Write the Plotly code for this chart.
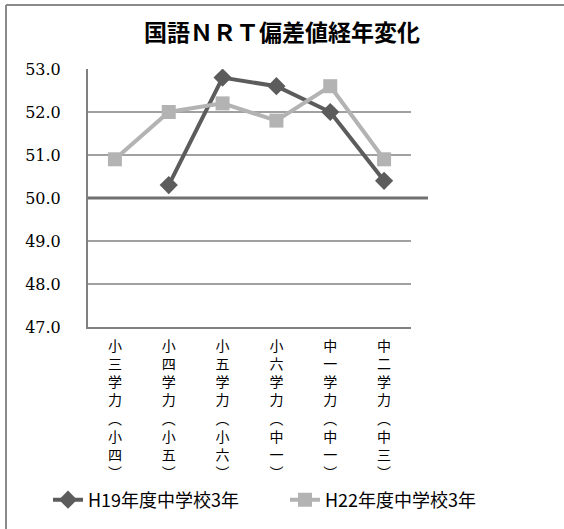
import plotly.graph_objects as go

categories = ["小三学力（小四）", "小四学力（小五）", "小五学力（小六）",
              "小六学力（中一）", "中一学力（中一）", "中二学力（中三）"]
cat_chars = [["小", "三", "学", "力", "︵", "小", "四", "︶"],
             ["小", "四", "学", "力", "︵", "小", "五", "︶"],
             ["小", "五", "学", "力", "︵", "小", "六", "︶"],
             ["小", "六", "学", "力", "︵", "中", "一", "︶"],
             ["中", "一", "学", "力", "︵", "中", "一", "︶"],
             ["中", "二", "学", "力", "︵", "中", "三", "︶"]]
h19 = [None, 50.3, 52.8, 52.6, 52.0, 50.4]
h22 = [50.9, 52.0, 52.2, 51.8, 52.6, 50.9]
series_names = ["H19年度中学校3年", "H22年度中学校3年"]
ytick_vals = [47, 48, 49, 50, 51, 52, 53]
ytick_text = ["47.0", "48.0", "49.0", "50.0", "51.0", "52.0", "53.0"]

W, H = 564, 529
L, R, T, B = 88, 411, 69, 327

def px_to_paper_x(px):
    return (px - L) / (R - L)

def px_to_paper_y(py):
    return (B - py) / (B - T)

cjk = "Noto Sans CJK JP"
serif = "DejaVu Serif"

fig = go.Figure()
fig.add_trace(go.Scatter(
    x=categories, y=h19, name=series_names[0], mode="lines+markers",
    line=dict(color="#5c5c5c", width=4),
    marker=dict(symbol="diamond", size=14, color="#5c5c5c"),
    connectgaps=False, legend="legend"))
fig.add_trace(go.Scatter(
    x=categories, y=h22, name=series_names[1], mode="lines+markers",
    line=dict(color="#b3b3b3", width=4),
    marker=dict(symbol="square", size=14, color="#b3b3b3"),
    legend="legend2"))

ticktext_x = ["<br>".join(chars) for chars in cat_chars]

legend_common = dict(xref="container", yref="container", xanchor="left",
                     yanchor="middle", y=1 - 500 / H,
                     font=dict(family=cjk, size=18, color="black"),
                     bgcolor="rgba(0,0,0,0)", borderwidth=0)

fig.update_layout(
    width=W, height=H,
    margin=dict(l=L, r=W - R, t=T, b=H - B, autoexpand=False),
    paper_bgcolor="white", plot_bgcolor="white",
    title=dict(text="<b>国語ＮＲＴ偏差値経年変化</b>", x=0.5, xref="container",
               xanchor="center", y=1 - 33 / H, yanchor="middle",
               font=dict(family=cjk, size=23, color="black")),
    showlegend=True,
    legend=dict(x=48 / W, **legend_common),
    legend2=dict(x=285 / W, **legend_common),
    xaxis=dict(type="category", range=[-0.5, 5.5], tickvals=categories,
               ticktext=ticktext_x, showgrid=False, showline=True,
               linecolor="#808080", linewidth=2, ticks="",
               tickfont=dict(family=cjk, size=14, color="black"),
               ticklabelstandoff=5, fixedrange=True),
    yaxis=dict(range=[47, 53], tickvals=ytick_vals, ticktext=ytick_text,
               showgrid=True, gridcolor="#a0a0a0", gridwidth=1.5,
               showline=True, linecolor="#808080", linewidth=2,
               zeroline=False, ticks="",
               tickfont=dict(family=serif, size=16, color="black"),
               ticklabelstandoff=22, fixedrange=True),
)

# reference line at 50.0 extending past plot area
fig.add_shape(type="line", xref="paper", yref="y", x0=0, x1=px_to_paper_x(428),
              y0=50, y1=50, line=dict(color="#707070", width=3), layer="above")
# chart frame (top and left edges visible)
fig.add_shape(type="line", xref="paper", yref="paper",
              x0=px_to_paper_x(6), x1=px_to_paper_x(600),
              y0=px_to_paper_y(5), y1=px_to_paper_y(5),
              line=dict(color="#8a8a8a", width=2))
fig.add_shape(type="line", xref="paper", yref="paper",
              x0=px_to_paper_x(6), x1=px_to_paper_x(6),
              y0=px_to_paper_y(5), y1=px_to_paper_y(560),
              line=dict(color="#8a8a8a", width=2))

fig.write_html("out.html")
